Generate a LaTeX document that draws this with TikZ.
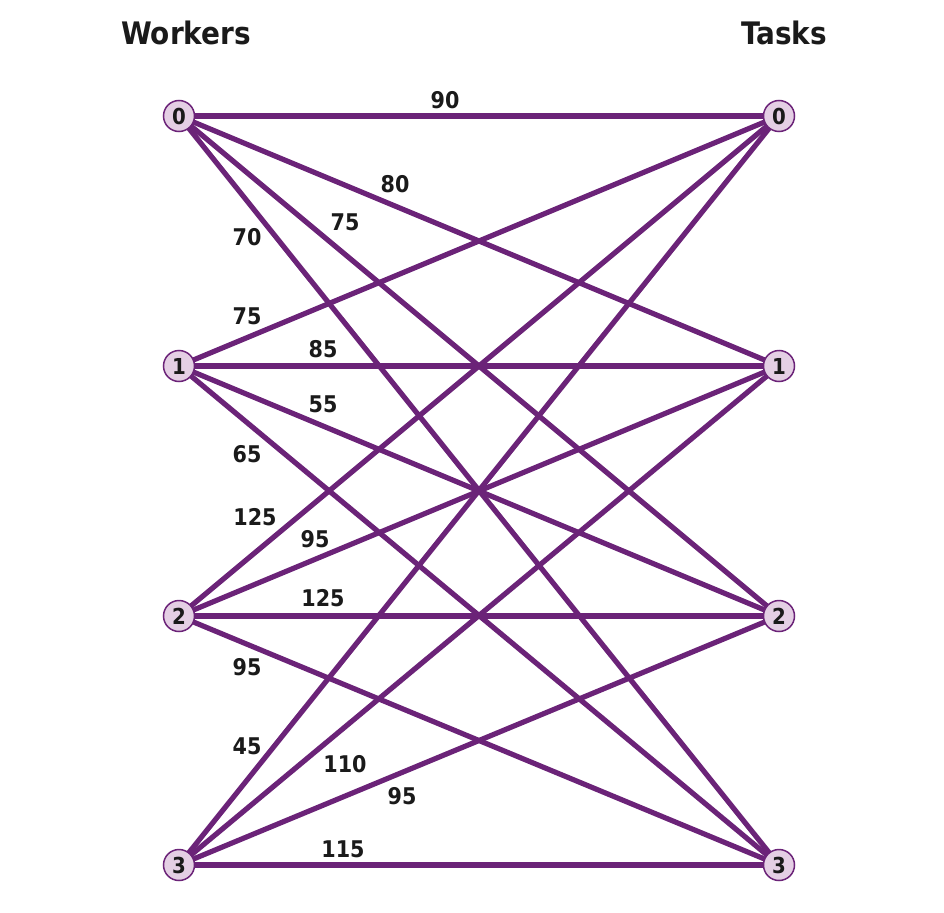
\documentclass[tikz,border=0pt]{standalone}
\usepackage{fontspec}
\setmainfont{DejaVu Sans Condensed}[BoldFont={DejaVu Sans Condensed Bold}]
\usetikzlibrary{backgrounds}
\definecolor{edgepurple}{HTML}{6B2378}
\definecolor{nodefill}{HTML}{E4CFE4}
\definecolor{labeltext}{HTML}{1A1A1A}
\tikzset{
  vertex/.style={circle, draw=edgepurple, line width=1.5pt, fill=nodefill, minimum size=31pt, inner sep=0pt,
    text=labeltext, font=\bfseries\fontsize{22}{22}\selectfont},
  link/.style={draw=edgepurple, line width=5.2pt},
  weight/.style={inner sep=0pt, text=labeltext, font=\bfseries\fontsize{23}{23}\selectfont},
  header/.style={inner sep=0pt, text=labeltext, font=\bfseries\fontsize{31}{31}\selectfont}
}
\begin{document}
\begin{tikzpicture}[x=1pt,y=-1pt]
\useasboundingbox (0,0) rectangle (944,912);
\node[header] (hw) at (186,33) {Workers};
\node[header] (ht) at (784,33) {Tasks};
% workers
\node[vertex] (w0) at (179,116) {0};
\node[vertex] (w1) at (179,366) {1};
\node[vertex] (w2) at (179,616) {2};
\node[vertex] (w3) at (179,865) {3};
% tasks
\node[vertex] (t0) at (779,116) {0};
\node[vertex] (t1) at (779,366) {1};
\node[vertex] (t2) at (779,616) {2};
\node[vertex] (t3) at (779,865) {3};
\begin{scope}[on background layer]
\foreach \i in {0,1,2,3}{
  \foreach \j in {0,1,2,3}{
    \draw[link] (w\i.center) -- (t\j.center);
  }
}
\end{scope}
% weights
\node[weight] (l00) at (445,100) {90};
\node[weight] (l01) at (395,184) {80};
\node[weight] (l02) at (345,222) {75};
\node[weight] (l03) at (247,237) {70};
\node[weight] (l10) at (247,316) {75};
\node[weight] (l11) at (323,349) {85};
\node[weight] (l12) at (323,404) {55};
\node[weight] (l13) at (247,454) {65};
\node[weight] (l20) at (255,517) {125};
\node[weight] (l21) at (315,539) {95};
\node[weight] (l22) at (323,598) {125};
\node[weight] (l23) at (247,667) {95};
\node[weight] (l30) at (247,746) {45};
\node[weight] (l31) at (345,764) {110};
\node[weight] (l32) at (402,796) {95};
\node[weight] (l33) at (343,849) {115};
\end{tikzpicture}
\end{document}
